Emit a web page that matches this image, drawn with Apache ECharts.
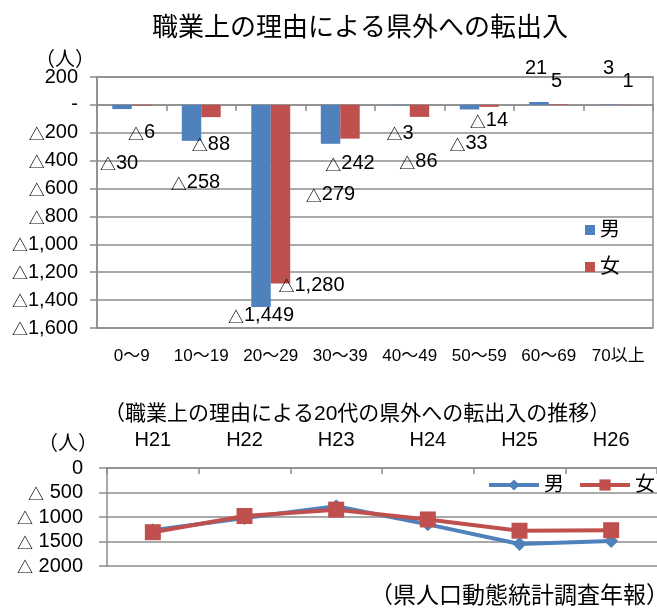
<!DOCTYPE html>
<html><head><meta charset="utf-8">
<script src="https://cdn.jsdelivr.net/npm/echarts@6/dist/echarts.min.js"></script>
<style>html,body{margin:0;padding:0;background:#fff}#c{width:657px;height:612px}</style>
</head><body><div id="c"></div>
<script>
// ---- data ----
const ageCategories = ['0～9','10～19','20～29','30～39','40～49','50～59','60～69','70以上'];
const maleByAge   = [-30, -258, -1449, -279, -3, -33, 21, 3];
const femaleByAge = [-6, -88, -1280, -242, -86, -14, 5, 1];
const topTickValues = [200, 0, -200, -400, -600, -800, -1000, -1200, -1400, -1600];
const topTickLabels = ['200', '-', '△200', '△400', '△600', '△800', '△1,000', '△1,200', '△1,400', '△1,600'];

const yearCategories = ['H21', 'H22', 'H23', 'H24', 'H25', 'H26'];
const male20s   = [-1270, -1020, -780, -1150, -1550, -1490];
const female20s = [-1310, -980, -850, -1050, -1280, -1270];
const bottomTickValues = [0, -500, -1000, -1500, -2000];
const bottomTickLabels = ['0', '△ 500', '△ 1000', '△ 1500', '△ 2000'];

// ---- label placement (style, not data) ----
const maleLabelOffset   = [[-3,39],[4,27],[0,-6],[0,36],[0,13],[-1,19],[-3,-18],[0,-21]];
const femaleLabelOffset = [[0,12],[0,12],[31,-13],[0,10],[-1,30],[0,-1],[-2,-8],[0,-8]];

const FONT = "'Liberation Sans','Noto Sans CJK JP',sans-serif";
const BLUE = '#4F81BD', RED = '#C0504D', GRID = '#8c8c8c';
const TRI = { t: { fontSize: 16, fontFamily: "'Noto Sans CJK JP',sans-serif", color: '#000', verticalAlign: 'bottom', padding: [0, 0, 1, 0] } };

function smallTri(s) { return s.replace('△', '{t|△}'); }
function barLabel(v) {
  return v < 0 ? smallTri('△' + Math.abs(v).toLocaleString('en-US')) : String(v);
}
function mkBarData(vals, offs) {
  return vals.map((v, i) => ({ value: v, label: { offset: offs[i] } }));
}
const plainTitle = (text, left, top, size) => ({ text, left, top, padding: 0,
  textStyle: { fontSize: size, fontWeight: 'normal', color: '#000', fontFamily: FONT } });

const chart = echarts.init(document.getElementById('c'), null, { renderer: 'canvas' });
chart.setOption({
  animation: false,
  backgroundColor: '#fff',
  textStyle: { fontFamily: FONT, color: '#000' },
  title: [
    plainTitle('職業上の理由による県外への転出入', 152, 16, 26),
    plainTitle('（人）', 35, 50, 20),
    plainTitle('（職業上の理由による20代の県外への転出入の推移）', 104, 404, 21),
    plainTitle('（人）', 38, 434, 20),
    plainTitle('（県人口動態統計調査年報）', 370, 585, 23)
  ],
  legend: [
    { data: ['男', '女'], orient: 'vertical', left: 585, top: 220, padding: 0,
      icon: 'rect', itemWidth: 10, itemHeight: 10, itemGap: 17,
      textStyle: { fontSize: 20, color: '#000', fontFamily: FONT } },
    { data: ['男・20代'], left: 487, top: 475, padding: 0,
      itemWidth: 50, itemHeight: 14, lineStyle: { width: 4 },
      formatter: n => n.split('・')[0],
      textStyle: { fontSize: 20, color: '#000', fontFamily: FONT } },
    { data: ['女・20代'], left: 578, top: 475, padding: 0,
      itemWidth: 50, itemHeight: 14, lineStyle: { width: 4 },
      formatter: n => n.split('・')[0],
      textStyle: { fontSize: 20, color: '#000', fontFamily: FONT } }
  ],
  grid: [
    { left: 97, right: 4, top: 77, bottom: 284, show: true, borderColor: GRID, borderWidth: 1.5 },
    { left: 107, right: -3, top: 468, bottom: 46 }
  ],
  xAxis: [
    { type: 'category', gridIndex: 0, data: ageCategories, position: 'bottom',
      axisLine: { onZero: true, lineStyle: { color: GRID, width: 1.5 } },
      axisTick: { show: true, length: 6, lineStyle: { color: GRID, width: 1.5 } },
      axisLabel: { show: false } },
    { type: 'category', gridIndex: 0, data: ageCategories, position: 'bottom',
      axisLine: { show: false, onZero: false }, axisTick: { show: false },
      axisLabel: { interval: 0, fontSize: 17, color: '#000', margin: 20, fontFamily: FONT } },
    { type: 'category', gridIndex: 1, data: yearCategories, position: 'top',
      axisLine: { onZero: false, lineStyle: { color: GRID, width: 1.5 } },
      axisTick: { show: true, inside: true, length: 6, lineStyle: { color: GRID, width: 1.5 } },
      axisLabel: { interval: 0, fontSize: 20, color: '#000', margin: 18, fontFamily: FONT } }
  ],
  yAxis: [
    { type: 'value', gridIndex: 0, min: -1600, max: 200, interval: 200,
      axisLine: { show: true, lineStyle: { color: GRID, width: 1.5 } },
      axisTick: { show: true, length: 7, lineStyle: { color: GRID, width: 1.5 } },
      splitLine: { lineStyle: { color: GRID, width: 1.5 } },
      axisLabel: { fontSize: 20, color: '#000', margin: 19, fontFamily: FONT, rich: TRI,
        formatter: v => smallTri(topTickLabels[topTickValues.indexOf(v)]) } },
    { type: 'value', gridIndex: 1, min: -2000, max: 0, interval: 500,
      axisLine: { show: true, lineStyle: { color: GRID, width: 1.5 } },
      axisTick: { show: true, length: 8, lineStyle: { color: GRID, width: 1.5 } },
      splitLine: { lineStyle: { color: GRID, width: 1.5 } },
      axisLabel: { fontSize: 20, color: '#000', margin: 24, fontFamily: FONT, rich: TRI,
        formatter: v => smallTri(bottomTickLabels[bottomTickValues.indexOf(v)]) } }
  ],
  series: [
    { name: '男', type: 'bar', xAxisIndex: 0, yAxisIndex: 0,
      data: mkBarData(maleByAge, maleLabelOffset),
      barWidth: '28%', barGap: '0%', itemStyle: { color: BLUE },
      label: { show: true, position: 'outside', fontSize: 20, color: '#000', fontFamily: FONT, rich: TRI,
        formatter: p => barLabel(p.value) } },
    { name: '女', type: 'bar', xAxisIndex: 0, yAxisIndex: 0,
      data: mkBarData(femaleByAge, femaleLabelOffset),
      barWidth: '28%', barGap: '0%', itemStyle: { color: RED },
      label: { show: true, position: 'outside', fontSize: 20, color: '#000', fontFamily: FONT, rich: TRI,
        formatter: p => barLabel(p.value) } },
    { name: '男・20代', type: 'line', xAxisIndex: 2, yAxisIndex: 1, data: male20s,
      symbol: 'diamond', symbolSize: 14, lineStyle: { color: BLUE, width: 4 },
      itemStyle: { color: BLUE } },
    { name: '女・20代', type: 'line', xAxisIndex: 2, yAxisIndex: 1, data: female20s,
      symbol: 'rect', symbolSize: 16, lineStyle: { color: RED, width: 4 },
      itemStyle: { color: RED } }
  ]
});
</script>
</body></html>
